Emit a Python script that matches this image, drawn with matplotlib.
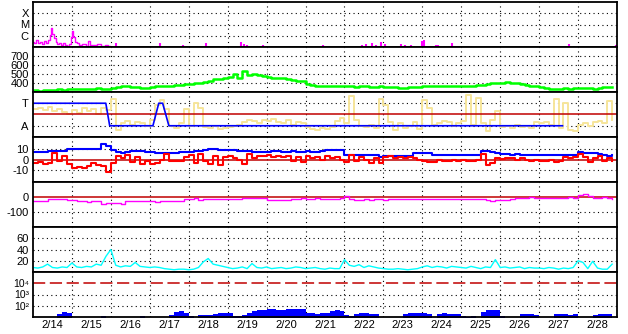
import matplotlib

matplotlib.use("Agg")
import matplotlib.pyplot as plt
import numpy as np
from matplotlib.ticker import NullLocator

plt.rcParams.update({"font.family": ["Liberation Sans", "DejaVu Sans"]})

DAY_LABELS = ["2/14", "2/15", "2/16", "2/17", "2/18", "2/19", "2/20", "2/21",
              "2/22", "2/23", "2/24", "2/25", "2/26", "2/27", "2/28"]

# x-ray flux, dense stretch at the start
XRAY_T = [0.00, 0.05, 0.10, 0.15, 0.20, 0.25, 0.30, 0.35, 0.40, 0.45, 0.48, 0.52,
          0.56, 0.60, 0.65, 0.70, 0.75, 0.80, 0.85, 0.90, 0.95, 1.00, 1.02, 1.05,
          1.10, 1.15, 1.20, 1.30, 1.40, 1.45, 1.50, 1.60, 1.70, 1.80, 1.90, 1.97]
XRAY_V = [3.0e-7, 2.5e-7, 4.0e-7, 2.2e-7, 3.0e-7, 2.0e-7, 3.5e-7, 2.5e-7, 4.0e-7,
          1.2e-6, 5.0e-6, 1.5e-6, 6.0e-7, 3.0e-7, 2.0e-7, 2.5e-7, 1.6e-7, 2.2e-7,
          1.5e-7, 1.3e-7, 1.8e-7, 8.0e-7, 2.4e-6, 7.0e-7, 3.0e-7, 2.2e-7, 1.4e-7,
          1.8e-7, 1.3e-7, 3.5e-7, 1.6e-7, 1.5e-7, 1.9e-7, 1.3e-7, 1.5e-7, 1.2e-7]
# isolated x-ray bumps later on
XRAY_SPIKE_T = [2.14, 3.26, 3.84, 4.45, 5.35, 5.42, 5.50, 5.90, 6.25, 6.60, 7.08, 7.45,
                8.45, 8.55, 8.62, 8.70, 8.80, 8.95, 9.05, 9.45, 9.55, 9.70, 9.98, 10.05,
                10.35, 10.40, 10.75, 12.50, 13.77, 13.90, 14.98]
XRAY_SPIKE_V = [2.5e-7, 2.5e-7, 1.5e-7, 2.5e-7, 3.0e-7, 2.0e-7, 1.5e-7, 1.5e-7, 1.2e-7,
                1.3e-7, 1.3e-7, 1.6e-7, 1.5e-7, 2.0e-7, 1.3e-7, 2.2e-7, 1.5e-7, 3.0e-7,
                1.8e-7, 1.8e-7, 1.5e-7, 1.6e-7, 3.5e-7, 4.5e-7, 1.5e-7, 1.5e-7, 2.5e-7,
                1.2e-7, 2.0e-7, 1.2e-7, 1.5e-7]

# 3-hourly series, 8 values per day, 2/14 .. 2/28
SPEED = [318, 316, 320, 318, 322, 330, 326, 332,
         335, 330, 338, 334, 336, 340, 332, 336,
         345, 355, 362, 370, 360, 352, 342, 340,
         350, 365, 372, 368, 370, 375, 380, 385,
         388, 395, 405, 415, 425, 440, 445, 450,
         470, 500, 460, 530, 490, 500, 485, 480,
         470, 460, 455, 450, 440, 430, 425, 420,
         390, 378, 372, 368, 365, 370, 366, 362,
         365, 368, 360, 362, 366, 360, 358, 362,
         360, 355, 350, 348, 345, 350, 355, 360,
         362, 365, 368, 364, 366, 370, 372, 368,
         365, 368, 372, 375, 380, 385, 395, 400,
         405, 408, 402, 395, 385, 378, 372, 368,
         360, 345, 335, 330, 338, 342, 336, 340,
         345, 348, 342, 338, 345, 350, 352, 350]

# IMF angle on the sector scale (A = 1, T = 3)
PHI = [2.5, 2.6, 2.4, 2.7, 2.3, 2.5, 2.2, 2.0,
       2.4, 2.1, 2.6, 2.3, 2.5, 2.0, 2.6, 2.4,
       3.4, 0.6, 1.2, 1.4, 1.1, 1.3, 1.2, 1.0,
       1.5, 2.8, 3.3, 2.5, 1.0, 0.8, 1.2, 2.5,
       1.0, 3.0, 2.6, 0.9, 0.8, 1.0, 0.7, 0.8,
       0.9, 1.0, 1.1, 1.3, 1.5, 1.4, 1.2, 1.5,
       1.4, 1.6, 1.3, 1.2, 1.5, 1.1, 1.3, 1.2,
       0.9, 0.7, 0.6, 0.8, 0.7, 0.9, 1.4, 1.7,
       1.2, 3.6, 1.5, 1.0, 0.9, 1.1, 0.8, 3.4,
       2.8, 1.3, 0.6, 1.2, 0.8, 1.0, 1.3, 0.7,
       3.3, 2.6, 1.1, 1.2, 1.4, 1.3, 1.0, 1.2,
       1.4, 3.7, 1.1, 3.5, 1.2, 0.5, 1.5, 2.3,
       0.9, 1.0, 0.8, 1.1, 0.9, 1.0, 0.8, 1.3,
       1.2, 1.3, 1.1, 3.4, 0.8, 3.0, 0.6, 0.5,
       1.1, 1.2, 1.0, 1.3, 1.4, 1.2, 3.2, 1.5]
SECTOR_T = [0.0, 1.87, 1.97, 3.08, 3.23, 3.33, 3.49, 13.6]
SECTOR_V = [3, 3, 1, 1, 3, 3, 1, 1]

BT = [6.4, 6.4, 6.4, 7.8, 7.8, 7.8, 7.8, 9.5,
      10, 10, 10, 10, 10, 9.5, 14.5, 12,
      9, 7, 6, 6.5, 8, 8, 7.5, 6.5,
      6.5, 5.5, 5.5, 5.5, 5.5, 6, 7, 7,
      7, 7.5, 8, 8.5, 9.5, 10, 8.5, 8.5,
      8.5, 8.5, 8.0, 7.5, 7.5, 7.0, 7.0, 7.0,
      7.0, 7.5, 7.5, 7.0, 7.0, 7.5, 7.0, 7.0,
      7.5, 7.0, 7.0, 7.5, 8.5, 8.5, 8.5, 8.5,
      4.5, 4.5, 4.5, 4.5, 4.5, 4.5, 4.5, 2.5,
      3.0, 3.5, 3.5, 3.5, 3.5, 3.5, 5.5, 5.5,
      5.5, 5.5, 4.0, 4.0, 4.0, 4.0, 4.0, 4.0,
      4.0, 4.0, 4.0, 4.0, 7.5, 7.5, 7.0, 5.5,
      5.0, 5.0, 4.5, 5.0, 4.5, 4.5, 4.5, 4.5,
      4.0, 4.0, 4.0, 4.0, 4.0, 4.0, 4.0, 4.0,
      6.5, 6.0, 5.5, 5.5, 5.0, 4.0, 3.5, 4.0]
BZ = [-3, -2, -4, -3, 6, -1, 3, -4,
      -8, -7, -8, -6, -3, -5, -6, -11,
      -3, 3, 1, 4, -2, 2, -4, -1,
      -4, -3, 0, 5, -1, -1, -1, 2,
      4, -3, 5, -1, -4, 3, -5, 2,
      3, 1, 0, -4, 5, 1, 3, 3,
      4, 2, 3, 2, 3, -1, 2, -2,
      3, 1, 2, 0, 3, 1, 2, 0,
      -2, 4, -1, 2, 0, -3, 1, -3,
      2, 3, 1, 2, 1, 2, 1, 0,
      -1, -2, -2, 0, -1, -1, 0, -1,
      0, -1, -1, -0.5, 5, -5, -3, 1,
      0.5, 1, 1, 0, 1, 0, -1, 0,
      -1, -1, 0, -2, -1, 2, 1, 2,
      5, 2, -2, 1, 3, -1, 1, -1]

DST = [-25, -24, -26, -12, -11, -12, -13, -20,
       -22, -25, -28, -30, -26, -28, -45, -42,
       -38, -42, -48, -25, -24, -26, -25, -28,
       -27, -30, -28, -26, -29, -27, -25, -12,
       -10, -8, -20, -14, -15, -16, -15, -14,
       -15, -14, -16, -8, -7, -6, -8, -7,
       -18, -20, -22, -19, -20, -12, -10, -9,
       -10, -11, -9, -10, -12, -10, -11, -9,
       5, -12, -17, -18, -15, -20, -16, -15,
       -18, -15, -14, -13, -15, -12, -13, -11,
       -12, -14, -13, -15, -12, -11, -13, -12,
       -14, -12, -15, -13, -11, -20, -25, -22,
       -20, -18, -15, -5, -4, -6, -3, -5,
       -4, -6, -5, -4, -7, -5, -3, -4,
       15, 18, 5, -4, -5, -3, -6, -10]

PROTON = [8, 7, 9, 14, 8, 7, 9, 8,
          16, 9, 8, 10, 9, 14, 12, 28,
          40, 12, 9, 11, 10, 17, 10, 9,
          8, 9, 8, 6, 5, 4, 5, 5,
          4, 5, 8, 18, 24, 14, 12, 10,
          8, 6, 7, 9, 6, 15, 8, 7,
          9, 6, 7, 8, 6, 7, 9, 8,
          6, 7, 8, 6, 5, 7, 6, 6,
          22, 12, 10, 13, 8, 11, 9, 7,
          6, 5, 5, 6, 5, 4, 5, 6,
          9, 11, 8, 10, 9, 7, 10, 9,
          8, 7, 10, 8, 6, 9, 8, 22,
          8, 9, 7, 8, 9, 6, 8, 7,
          7, 6, 8, 7, 5, 7, 6, 8,
          20, 17, 6, 19, 7, 5, 5, 14]

ELECTRON = [5, 5, 5, 5, 5, 20, 26, 24,
            5, 5, 5, 5, 5, 5, 12, 5,
            5, 5, 5, 5, 5, 5, 12, 5,
            5, 5, 5, 5, 15, 28, 31, 25,
            12, 5, 14, 16, 15, 20, 24, 22,
            22, 13, 12, 14, 22, 32, 40, 45,
            50, 48, 45, 42, 48, 50, 50, 50,
            25, 22, 20, 24, 22, 35, 38, 36,
            15, 12, 18, 22, 24, 20, 18, 5,
            5, 5, 5, 5, 20, 22, 22, 24,
            25, 20, 5, 20, 22, 20, 18, 20,
            12, 11, 12, 5, 30, 42, 45, 40,
            12, 5, 5, 5, 18, 20, 18, 16,
            5, 5, 5, 18, 20, 18, 16, 18,
            5, 5, 5, 16, 18, 20, 18, 20]

DOT = (0, (1, 3))
DARK_RED = "#c00000"


def style_panel(ax, ticks, labels, dotted, size=8):
    ax.set_yticks(ticks, labels)
    ax.yaxis.set_minor_locator(NullLocator())
    ax.tick_params(axis="y", which="both", length=0, labelsize=size, pad=3)
    ax.tick_params(axis="x", which="both", length=0)
    for level in dotted:
        ax.axhline(level, color="black", lw=0.8, ls=DOT, zorder=0)
    for d in range(1, 15):
        ax.axvline(d, color="black", lw=0.8, ls=DOT, zorder=0)
    for sp in ax.spines.values():
        sp.set_linewidth(1.3)


fig = plt.figure(figsize=(6.28, 3.34), dpi=100)
axes = fig.subplots(7, 1, sharex=True)
fig.subplots_adjust(left=33 / 628, right=617 / 628, top=1 - 2 / 334, bottom=1 - 317 / 334, hspace=0)
ax1, ax2, ax3, ax4, ax5, ax6, ax7 = axes
t3 = np.arange(len(SPEED)) * 0.125

# x-ray
ax1.set_yscale("log")
ax1.plot(XRAY_T, XRAY_V, color="#ff00ff", lw=1.0, drawstyle="steps-mid")
ax1.vlines(XRAY_SPIKE_T, 1e-7, XRAY_SPIKE_V, color="#ff00ff", lw=1.5)
ax1.set_ylim(1e-7, 1e-3)
style_panel(ax1, [1e-6, 1e-5, 1e-4], ["C", "M", "X"], [1e-6, 1e-5, 1e-4])

# solar wind speed
ax2.plot(t3, SPEED, color="#00ff00", lw=1.8, drawstyle="steps-post")
ax2.set_ylim(300, 800)
style_panel(ax2, [400, 500, 600, 700], ["400", "500", "600", "700"], [400, 500, 600, 700])

# sector
ax3.plot(t3, PHI, color="#f6e59a", lw=1.4, drawstyle="steps-post")
ax3.axhline(2, color=DARK_RED, lw=1.1)
ax3.plot(SECTOR_T, SECTOR_V, color="#0000ff", lw=1.2)
ax3.set_ylim(0, 4)
style_panel(ax3, [1, 3], ["A", "T"], [1, 3])

# IMF
ax4.axhline(0, color=DARK_RED, lw=1.1)
ax4.plot(t3, BT, color="#0000ff", lw=1.5, drawstyle="steps-post")
ax4.plot(t3, BZ, color="#ff0000", lw=1.5, drawstyle="steps-post")
ax4.set_ylim(-20.5, 20.5)
style_panel(ax4, [-10, 0, 10], ["-10", "0", "10"], [-10, 10])

# Dst
ax5.axhline(0, color=DARK_RED, lw=1.1)
ax5.plot(t3, DST, color="#ff00ff", lw=1.0, drawstyle="steps-post")
ax5.set_ylim(-200, 100)
style_panel(ax5, [-100, 0], ["-100", "0"], [-100])

# protons
ax6.plot(t3, PROTON, color="#00ffff", lw=1.0)
ax6.set_ylim(0, 80)
style_panel(ax6, [20, 40, 60], ["20", "40", "60"], [20, 40, 60])

# electrons
ax7.set_yscale("log")
ax7.fill_between(t3, 1, ELECTRON, step="post", color="#0000ff", lw=0)
ax7.axhline(1e4, color=DARK_RED, lw=1.1, ls=(0, (8, 3)))
ax7.set_ylim(10, 1e5)
style_panel(ax7, [1e2, 1e3, 1e4], ["10\u00b2", "10\u00b3", "10\u2074"], [1e2, 1e3], size=7.5)

ax7.set_xlim(0, 15)
ax7.set_xticks(np.arange(1, 15), [""] * 14)
ax7.set_xticks(np.arange(15) + 0.5, DAY_LABELS, minor=True)
ax7.tick_params(axis="x", which="minor", labelsize=8, pad=2)

fig.savefig("out.png", dpi=100)
